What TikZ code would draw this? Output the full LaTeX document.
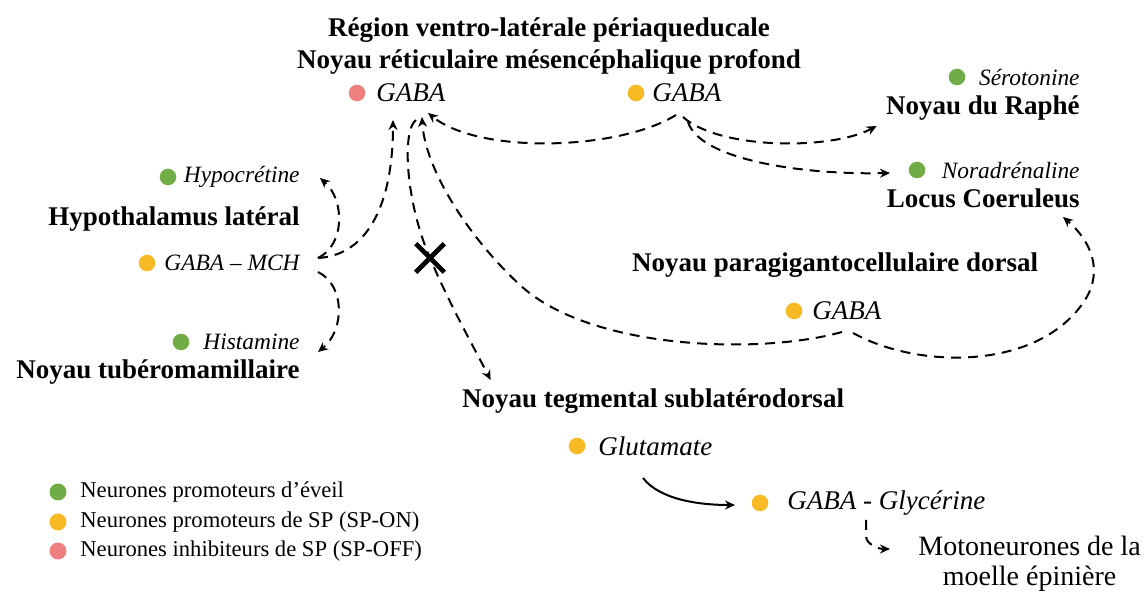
\documentclass[tikz,border=0pt]{standalone}
\usepackage{fontspec}
\setmainfont{Liberation Serif}
\usetikzlibrary{arrows.meta}
\usetikzlibrary{calc}
\usetikzlibrary{shapes.misc}

\definecolor{eveil}{RGB}{112,173,71}
\definecolor{spon}{RGB}{247,186,36}
\definecolor{spoff}{RGB}{240,128,128}

\begin{document}
\begin{tikzpicture}[x=0.5pt,y=-0.5pt]
	\tikzstyle{noyau}=[inner sep=0pt,font=\bfseries\fontsize{13.5}{16}\selectfont]
	\tikzstyle{nt}=[inner sep=0pt,font=\itshape\fontsize{11.7}{14}\selectfont]
	\tikzstyle{ntb}=[inner sep=0pt,font=\itshape\fontsize{13.5}{16}\selectfont]
	\tikzstyle{leg}=[inner sep=0pt,anchor=west,font=\fontsize{11.3}{13}\selectfont]
	\tikzstyle{pt}=[circle,inner sep=0pt,minimum size=8.3pt]
	\tikzstyle{lien}=[dash pattern=on 5pt off 3.5pt,line width=1pt,-{Stealth[length=5pt,width=4.5pt]}]

	\useasboundingbox (0,0) rectangle (1145,592);

	% noyaux du tronc
	\node[noyau] (vlpag) at (549,30) {Région ventro-latérale périaqueducale};
	\node[noyau] (dpmr) at (549,62) {Noyau réticulaire mésencéphalique profond};
	\node[pt,fill=spoff] (dR) at (357,93) {};
	\node[ntb,anchor=west] (gabaR) at (376,93) {GABA};
	\node[pt,fill=spon] (dO) at (636,93) {};
	\node[ntb,anchor=west] (gabaO) at (652,93) {GABA};

	\node[pt,fill=eveil] (dS) at (957,77) {};
	\node[nt,anchor=east] (sero) at (1080,77) {Sérotonine};
	\node[noyau,anchor=east] (raphe) at (1080,108) {Noyau du Raphé};
	\node[pt,fill=eveil] (dN) at (917,170) {};
	\node[nt,anchor=east] (norad) at (1080,170) {Noradrénaline};
	\node[noyau,anchor=east] (lc) at (1080,198) {Locus Coeruleus};

	% hypothalamus
	\node[pt,fill=eveil] (dH) at (168,177) {};
	\node[nt,anchor=east] (hypo) at (300,177) {Hypocrétine};
	\node[noyau,anchor=east] (hl) at (300,219) {Hypothalamus latéral};
	\node[pt,fill=spon] (dM) at (147,263) {};
	\node[nt,anchor=east] (mch) at (300,263) {GABA – MCH};
	\node[pt,fill=eveil] (dHi) at (181,342) {};
	\node[nt,anchor=east] (hista) at (300,342) {Histamine};
	\node[noyau,anchor=east] (tmn) at (300,372) {Noyau tubéromamillaire};

	% pont et bulbe
	\node[noyau] (pgd) at (835,265) {Noyau paragigantocellulaire dorsal};
	\node[pt,fill=spon] (dP) at (794,311) {};
	\node[ntb,anchor=west] (gabaP) at (812,311) {GABA};
	\node[noyau] (sld) at (653,401) {Noyau tegmental sublatérodorsal};
	\node[pt,fill=spon] (dG) at (577,446) {};
	\node[ntb,anchor=west] (gluta) at (598,446) {Glutamate};
	\node[pt,fill=spon] (dGG) at (760,503) {};
	\node[ntb,anchor=west] (glyc) at (787,503) {GABA - Glycérine};
	\node[inner sep=0pt,anchor=north west,align=center,font=\fontsize{14}{15}\selectfont] (moto) at (918,536) {Motoneurones de la\\moelle épinière};

	\node[cross out,draw,line width=2.3pt,minimum size=12pt,inner sep=0pt] (blk) at (430,258) {};

	% connexions
	\draw[lien] ($(mch.east)+(18,-5)$) .. controls +(27,-13) and +(25,22) .. ($(hypo.east)+(20,1)$);
	\draw[lien] ($(mch.east)+(18,9)$) .. controls +(27,13) and +(27,-22) .. ($(hista.east)+(18,10)$);
	\draw[lien] ($(mch.east)+(18,-5)$) .. controls +(52,-3) and +(0,80) .. ($(gabaR.west)+(17,27)$);
	\draw[lien] ($(gabaR.west)+(40,27)$) .. controls +(-14,10) and +(-25,-58) .. (blk.center)
		.. controls +(20,47) and +(-18,-35) .. ($(sld.west)+(29,-21)$);
	\draw[lien] ($(gabaP.west)+(30,21)$) .. controls +(-82,23) and +(70,65) .. (520,285)
		.. controls +(-50,-46) and +(3,53) .. ($(gabaR.west)+(46,24)$);
	\draw[lien] ($(gabaO.west)+(24,22)$) .. controls +(-56,35) and +(52,42) .. ($(gabaR.west)+(52,20)$);
	\draw[lien] ($(gabaO.west)+(31,24)$) .. controls +(37,33) and +(-45,24) .. ($(raphe.west)+(-9,18)$);
	\draw[lien] ($(gabaO.west)+(36,29)$) .. controls +(12,38) and +(-87,2) .. ($(dN)+(-27,3)$);
	\draw[lien] ($(gabaP.west)+(41,22)$) .. controls +(67,37) and +(-45,70) .. (1085,300)
		.. controls +(19,-30) and +(27,23) .. ($(lc.east)+(-17,19)$);
	\draw[line width=1pt,-{Stealth[length=5pt,width=4.5pt]}] ($(gluta.west)+(45,32)$) .. controls +(17,22) and +(-35,0) .. ($(dGG)+(-25,2)$);
	\draw[lien] ($(glyc.west)+(79,17)$) -- ++(0,16) .. controls +(0,8) and +(-12,0) .. ($(moto.north west)+(-28,13)$);

	% legende
	\node[pt,fill=eveil,minimum size=8.5pt] (lg1) at (58,492) {};
	\node[leg] (lt1) at (80,492) {Neurones promoteurs d’éveil};
	\node[pt,fill=spon,minimum size=8.5pt] (lg2) at (58,522) {};
	\node[leg] (lt2) at (80,522) {Neurones promoteurs de SP (SP-ON)};
	\node[pt,fill=spoff,minimum size=8.5pt] (lg3) at (58,551) {};
	\node[leg] (lt3) at (80,551) {Neurones inhibiteurs de SP (SP-OFF)};
\end{tikzpicture}
\end{document}
